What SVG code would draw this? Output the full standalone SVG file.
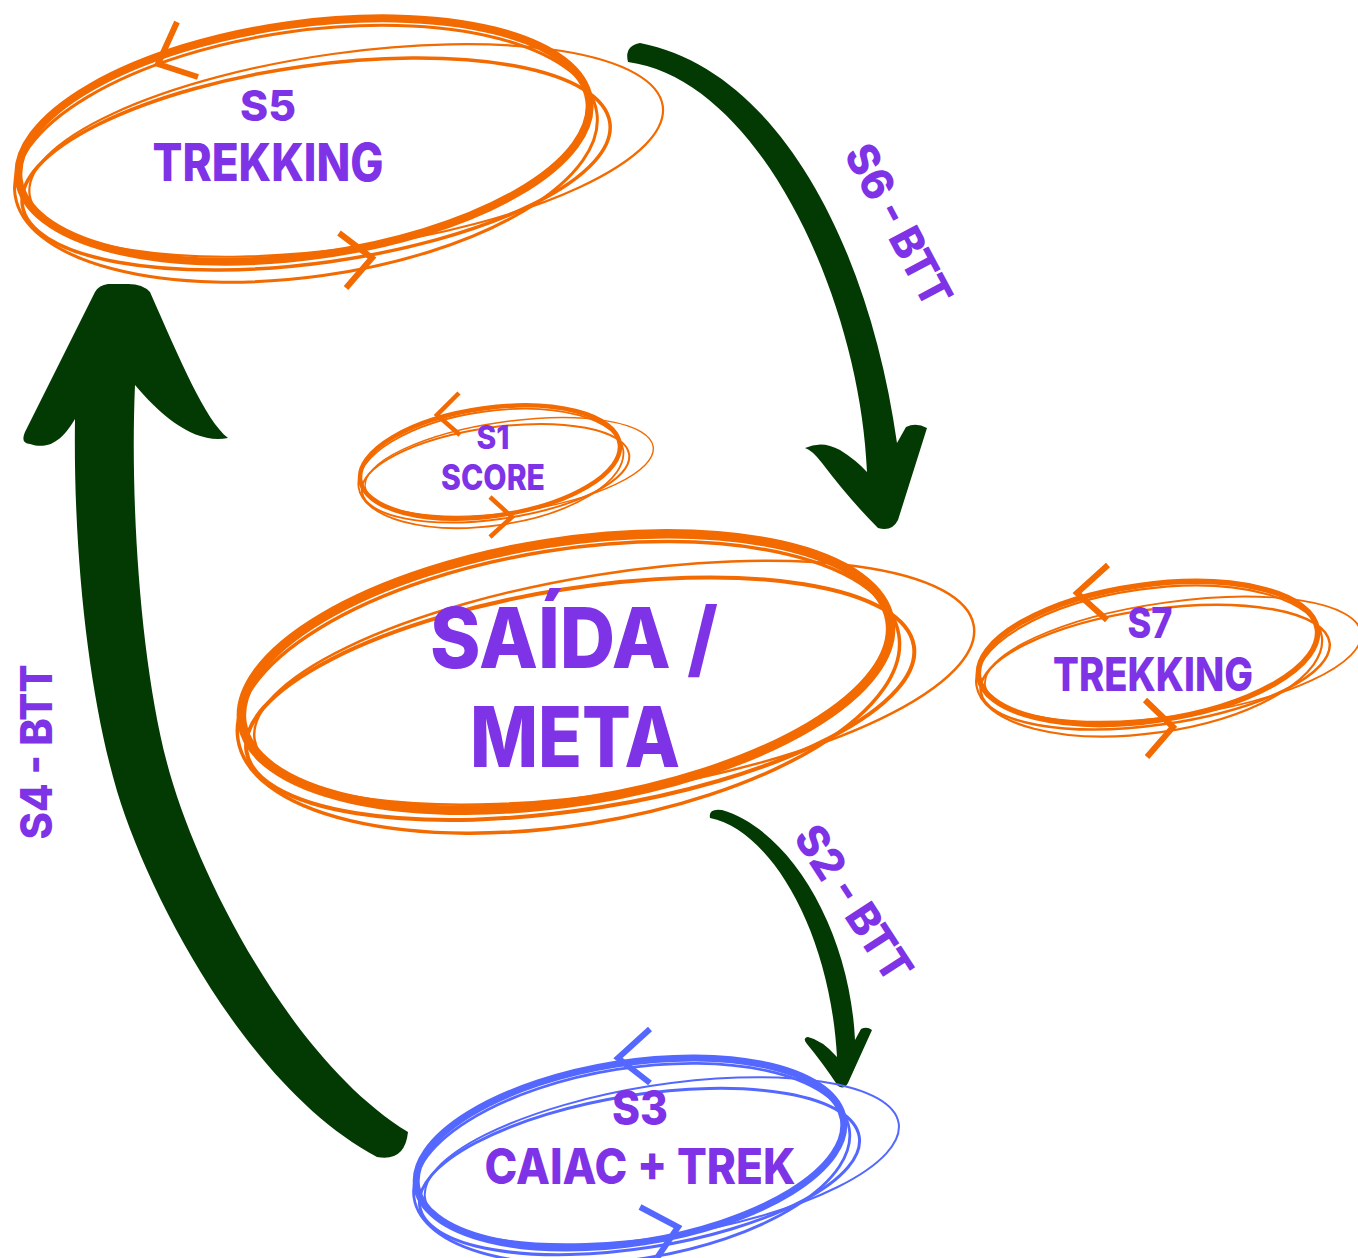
<svg xmlns="http://www.w3.org/2000/svg" width="1358" height="1258" viewBox="0 0 1358 1258">
<style>
.lp{fill:none;vector-effect:non-scaling-stroke;stroke-linecap:round}
.or .lp,.or .ch{stroke:#F26A00}
.bl .lp,.bl .ch{stroke:#5468FF}
.ch{fill:none;stroke-linecap:butt;stroke-linejoin:miter}
.t{font-family:Inter,"Open Sans",Lato,"Liberation Sans",sans-serif;font-weight:800;fill:#7F33E6;text-anchor:middle}
.arr{fill:#033A03}
</style>
<rect width="1358" height="1258" fill="#FFFFFF"/>

<g id="connectors">
  <g id="edge-s6">
    <path class="arr" d="M628,62 Q624,46 640,43 C780,70 870,250 897,443 L906,427 Q916,422 927,428 L898,520 Q892,532 878,528 Q850,500 822,463 Q812,450 805,448 Q822,440 840,450 Q856,460 867,472 C860,300 760,80 628,62 Z"/>
    <text class="t" font-size="44" transform="translate(899,225) rotate(62)" y="16" textLength="177" lengthAdjust="spacingAndGlyphs">S6 - BTT</text>
  </g>
  <g id="edge-s2">
    <path class="arr" d="M710,818 Q708,808 722,810 C790,830 850,930 855,1040 L861,1029 Q867,1026 872,1030 L848,1083 Q844,1090 838,1086 Q822,1062 807,1044 Q802,1038 808,1037 Q822,1040 837,1057 C830,930 770,830 710,818 Z"/>
    <text class="t" font-size="44" transform="translate(854,903) rotate(57)" y="16" textLength="177" lengthAdjust="spacingAndGlyphs">S2 - BTT</text>
  </g>
  <g id="edge-s4">
    <path class="arr" d="M408,1132 C290,1060 195,870 167,763 C140,660 130,500 135,385 C160,415 195,445 228,438 C205,420 180,360 150,292 Q142,283 125,284 L108,284 Q99,285 95,292 L25,432 Q20,443 30,444 C45,449 60,445 75,419 C73,560 90,700 117,791 C150,900 250,1090 377,1157 Q405,1162 408,1132 Z"/>
    <text class="t" font-size="44" transform="translate(36,752) rotate(-90)" y="16" textLength="175" lengthAdjust="spacingAndGlyphs">S4 - BTT</text>
  </g>
</g>

<g id="node-s5" class="or">
  <g transform="translate(304,140) rotate(-8) scale(288,116)">
    <ellipse class="lp" rx="1" ry="1" stroke-width="8"/>
    <ellipse class="lp" cx="0.03" cy="0.22" rx="1.03" ry="0.85" stroke-width="3.5"/>
    <ellipse class="lp" cx="0.14" cy="0.14" rx="1.11" ry="0.84" stroke-width="2.2"/>
    <ellipse class="lp" cx="0" cy="0.12" rx="1.02" ry="1.06" stroke-width="3"/>
  </g>
  <polyline class="ch" points="177,22 158,64 198,77" stroke-width="6"/>
  <polyline class="ch" points="339,233 372,258 346,288" stroke-width="6"/>
  <text class="t" x="268" y="121" font-size="43" textLength="56" lengthAdjust="spacingAndGlyphs">S5</text>
  <text class="t" x="268" y="181" font-size="52" textLength="231" lengthAdjust="spacingAndGlyphs">TREKKING</text>
</g>

<g id="node-s1" class="or">
  <g transform="translate(490,462) rotate(-8) scale(131,54)">
    <ellipse class="lp" rx="1" ry="1" stroke-width="4.5"/>
    <ellipse class="lp" cx="0.03" cy="0.22" rx="1.03" ry="0.85" stroke-width="2"/>
    <ellipse class="lp" cx="0.14" cy="0.14" rx="1.11" ry="0.84" stroke-width="1.4"/>
    <ellipse class="lp" cx="0" cy="0.12" rx="1.02" ry="1.06" stroke-width="1.8"/>
  </g>
  <polyline class="ch" points="459,393 437,415 460,435" stroke-width="4.5"/>
  <polyline class="ch" points="490,497 512,517 490,537" stroke-width="4.5"/>
  <text class="t" x="493" y="449" font-size="32" textLength="33" lengthAdjust="spacingAndGlyphs">S1</text>
  <text class="t" x="493" y="490" font-size="35" textLength="104" lengthAdjust="spacingAndGlyphs">SCORE</text>
</g>

<g id="node-meta" class="or">
  <g transform="translate(566,672) rotate(-9) scale(328,130)">
    <ellipse class="lp" rx="1" ry="1" stroke-width="9.5"/>
    <ellipse class="lp" cx="0.03" cy="0.22" rx="1.03" ry="0.85" stroke-width="4"/>
    <ellipse class="lp" cx="0.14" cy="0.14" rx="1.11" ry="0.84" stroke-width="2.5"/>
    <ellipse class="lp" cx="0" cy="0.12" rx="1.02" ry="1.06" stroke-width="3.5"/>
  </g>
  <text class="t" x="574" y="668" font-size="84" textLength="288" lengthAdjust="spacingAndGlyphs">SAÍDA /</text>
  <text class="t" x="575" y="767" font-size="84" textLength="210" lengthAdjust="spacingAndGlyphs">META</text>
</g>

<g id="node-s7" class="or">
  <g transform="translate(1148,653) rotate(-8) scale(171,68)">
    <ellipse class="lp" rx="1" ry="1" stroke-width="5.5"/>
    <ellipse class="lp" cx="0.03" cy="0.22" rx="1.03" ry="0.85" stroke-width="2.5"/>
    <ellipse class="lp" cx="0.14" cy="0.14" rx="1.11" ry="0.84" stroke-width="1.8"/>
    <ellipse class="lp" cx="0" cy="0.12" rx="1.02" ry="1.06" stroke-width="2.2"/>
  </g>
  <polyline class="ch" points="1108,565 1077,593 1107,620" stroke-width="6"/>
  <polyline class="ch" points="1145,700 1173,727 1147,757" stroke-width="6"/>
  <text class="t" x="1150" y="638" font-size="43" textLength="45" lengthAdjust="spacingAndGlyphs">S7</text>
  <text class="t" x="1153" y="691" font-size="47" textLength="200" lengthAdjust="spacingAndGlyphs">TREKKING</text>
</g>

<g id="node-s3" class="bl">
  <g transform="translate(630,1153) rotate(-9) scale(216,90)">
    <ellipse class="lp" rx="1" ry="1" stroke-width="7"/>
    <ellipse class="lp" cx="0.03" cy="0.22" rx="1.03" ry="0.85" stroke-width="3"/>
    <ellipse class="lp" cx="0.14" cy="0.14" rx="1.11" ry="0.84" stroke-width="2"/>
    <ellipse class="lp" cx="0" cy="0.12" rx="1.02" ry="1.06" stroke-width="2.8"/>
  </g>
  <polyline class="ch" points="650,1029 618,1058 650,1083" stroke-width="6"/>
  <polyline class="ch" points="640,1207 678,1227 657,1258" stroke-width="6"/>
  <text class="t" x="640" y="1125" font-size="48" textLength="56" lengthAdjust="spacingAndGlyphs">S3</text>
  <text class="t" x="640" y="1184" font-size="50" textLength="311" lengthAdjust="spacingAndGlyphs">CAIAC + TREK</text>
</g>
</svg>
